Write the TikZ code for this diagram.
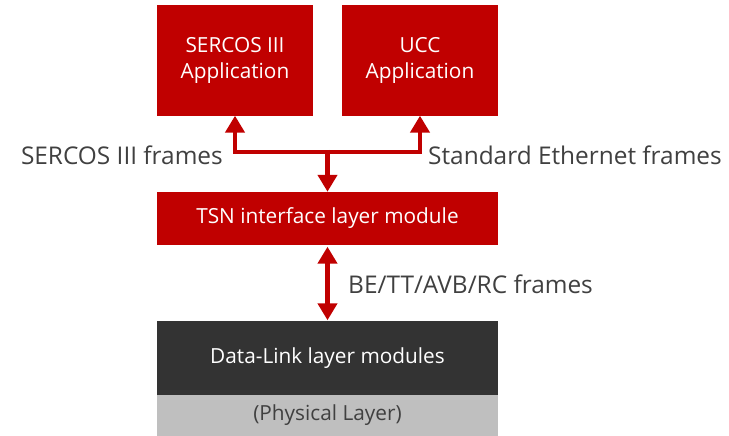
\documentclass[tikz,border=0pt]{standalone}
\usepackage{fontspec}
\setmainfont{Open Sans}
\usetikzlibrary{arrows.meta}
\definecolor{tsnred}{HTML}{C00000}
\definecolor{linkgray}{HTML}{333333}
\definecolor{phygray}{HTML}{BFBFBF}
\definecolor{labelgray}{HTML}{404040}
\begin{document}
\begin{tikzpicture}[x=1pt,y=1pt,
    appbox/.style={fill=tsnred, text=white, inner sep=0pt, align=center,
        minimum width=156pt, minimum height=111pt, font=\fontsize{20.8}{26}\selectfont},
    layerbox/.style={inner sep=0pt, minimum width=341pt, font=\fontsize{20.8}{26}\selectfont},
    framelabel/.style={text=labelgray, inner sep=0pt, font=\fontsize{24.4}{30}\selectfont},
    redarrow/.style={draw=tsnred, line width=4.5pt, -{Triangle[width=19pt,length=17pt]}}]
    \useasboundingbox (0,0) rectangle (729,436);

    % Applications on top
    \node[appbox] (sercos) at (235,375.5) {SERCOS III\\Application};
    \node[appbox] (ucc) at (420,375.5) {UCC\\Application};

    % Layer stack
    \node[layerbox, fill=tsnred, text=white, minimum height=53pt] (tsn) at (327.5,217.5) {TSN interface layer module};
    \node[layerbox, fill=linkgray, text=white, minimum height=74pt] (datalink) at (327.5,78) {Data-Link layer modules};
    \node[layerbox, fill=phygray, text=labelgray, minimum height=41pt] (phys) at (327.5,20.5) {(Physical Layer)};

    % Frames between applications and TSN layer
    \coordinate (split) at (327.5,284);
    \draw[redarrow] (split) -| ([yshift=0.5pt]sercos.south);
    \draw[redarrow] (split) -| ([yshift=0.5pt]ucc.south);
    \draw[redarrow] ([yshift=2pt]split) -- (tsn.north);
    \draw[redarrow, {Triangle[width=19pt,length=17pt]}-{Triangle[width=19pt,length=17pt]}, shorten <=1.5pt, shorten >=0.5pt]
        (tsn.south) -- (datalink.north);

    \node[framelabel, anchor=east] (sercoslabel) at (223,281) {SERCOS III frames};
    \node[framelabel, anchor=west] (ethlabel) at (428,281) {Standard Ethernet frames};
    \node[framelabel, anchor=west] (belabel) at (348,152) {BE/TT/AVB/RC frames};
\end{tikzpicture}
\end{document}
